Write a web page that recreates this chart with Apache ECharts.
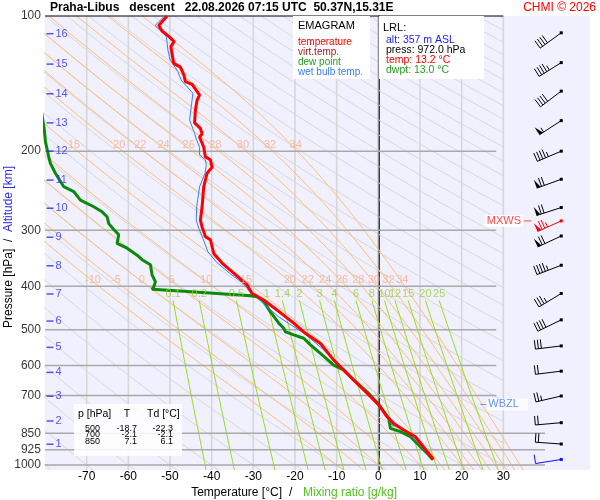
<!DOCTYPE html>
<html>
<head>
<meta charset="utf-8">
<title>Emagram Praha-Libus</title>
<script src="https://cdn.jsdelivr.net/npm/echarts@6/dist/echarts.min.js"></script>
<style>
html, body { margin: 0; padding: 0; background: #fff; }
#chart { width: 600px; height: 500px; }
</style>
</head>
<body>
<div id="chart"></div>
<script>
// axis labels
var pressTicks = [100, 200, 300, 400, 500, 600, 700, 850, 925, 1000];
var tempTicks = [-70, -60, -50, -40, -30, -20, -10, 0, 10, 20, 30];
var altKm = [1, 2, 3, 4, 5, 6, 7, 8, 9, 10, 11, 12, 13, 14, 15, 16];
var altPres = [899, 798, 703, 622, 547, 478, 416, 360, 311, 268, 232, 200, 173, 149, 128, 109.5];

// background families
var thetaWLow = [-10, -5, 0, 5, 10, 15, 20, 22, 24, 26, 28, 30, 32, 34];   // labelled near 400 hPa
var thetaWHigh = [15, 20, 22, 24, 26, 28, 30, 32, 34];                     // labelled near 200 hPa
var mixRatios = [0.1, 0.2, 0.5, 1, 1.4, 2, 3, 4, 6, 8, 10, 12, 15, 20, 25];

// sounding (hPa / degC), surface upward
var tempP = [972, 903, 865, 836, 808, 781, 735, 692, 636, 584, 536, 509, 483, 452, 429, 415, 397, 374, 355, 338, 315, 310, 295, 285, 266, 240, 224, 217, 209, 206, 196, 186, 183, 178, 173, 162, 154, 150, 142, 140, 135, 130, 127.5, 121.5, 117, 114, 111, 108, 105, 100];
var tempT = [13.2, 10.5, 8.9, 6.1, 3.7, 2.1, 0.1, -2.7, -6.7, -10.7, -13.9, -17.5, -20.3, -24.3, -27.5, -30.3, -31.5, -34.7, -37.5, -39.5, -40.3, -41.5, -42.3, -42.7, -42.3, -41.9, -41.1, -39.9, -40.3, -41.5, -41.9, -42.9, -42.3, -42.7, -44.1, -43.9, -43.5, -42.9, -44.7, -46.3, -46.7, -47.5, -49.1, -49.5, -49.8, -49.0, -50.3, -51.9, -52.7, -50.7];
var dewP = [972, 950, 910, 865, 843, 829, 787, 731, 687, 647, 614, 599, 564, 540, 522, 513, 505, 496, 483, 456, 433, 422, 420, 415, 410, 406, 401, 391, 377, 358, 349, 341, 329, 321, 307, 299, 290, 280, 273, 266, 257, 246, 240, 224, 213, 206, 190.5, 178, 162];
var dewT = [13.0, 12.1, 10.1, 7.7, 5.3, 2.9, 2.5, 0, -2.7, -5.9, -8.3, -10.7, -13.9, -16.3, -17.9, -20.3, -22.3, -22.7, -23.9, -25.9, -27.5, -29.1, -30.7, -38.7, -46.7, -54.3, -53.9, -53.5, -54.3, -54.7, -56.7, -57.9, -60.3, -62.7, -62.3, -63.5, -64.7, -65.1, -66.3, -68.3, -71.5, -73.1, -75.5, -77.5, -78.7, -79.1, -79.9, -80.2, -80.9];
var wetP = [972, 942, 888, 836, 815, 733, 690, 637, 585, 550, 509, 488, 467, 440, 420, 411, 394, 374, 353, 335, 313, 297, 285, 266, 240, 224, 215, 209, 204, 196, 189, 182.5, 170.5, 159, 148.6, 139, 133, 125, 119, 111, 105, 100];
var wetT = [13.1, 11.7, 9.3, 6.5, 3.3, 0, -2.7, -6.7, -10.7, -13.5, -17.8, -20.9, -24.0, -27.3, -29.3, -30.9, -32.5, -35.7, -38.9, -40.9, -42.1, -43.1, -43.7, -43.6, -42.9, -41.6, -41.3, -41.5, -42.9, -42.9, -43.6, -44.1, -45.3, -44.9, -44.5, -47.3, -48.1, -50.0, -50.5, -50.9, -53.6, -51.3];

// wind (hPa, deg, kt)
var windP = [972, 898, 805, 702, 618, 543, 475, 415, 359, 309, 286, 267, 231, 200, 171, 147, 127, 109];
var windDir = [261, 274, 265, 257, 263, 263, 244, 239, 249, 245, 246, 252, 250, 247, 237, 233, 238, 234];
var windSpd = [10, 20, 20, 25, 20, 30, 40, 35, 45, 70, 75, 70, 70, 45, 55, 40, 45, 40];
var windKind = ['sfc', 'obs', 'obs', 'obs', 'obs', 'obs', 'obs', 'obs', 'obs', 'obs', 'mxws', 'obs', 'obs', 'obs', 'obs', 'obs', 'obs', 'obs'];

var mxwsP = 286;
var wbzlP = 733;

// table
var tableP = [500, 700, 850];
var tableT = [-18.7, -2.1, 7.1];
var tableTd = [-22.3, -2.1, 6.1];

var yMax = 1026;
var FONT = 'Liberation Sans, Arial, sans-serif';

function esat(t) { return 6.112 * Math.exp(17.67 * t / (t + 243.5)); }
function lapse(t, p) {
    var tk = t + 273.15, e = esat(t), r = 0.622 * e / (p - e);
    return (287.04 * tk + 2.501e6 * r) / (1005.7 + 2.501e6 * 2.501e6 * r * 0.622 / (287.04 * tk * tk)) / p;
}
function rk(t, p, h) {
    var k1 = lapse(t, p), k2 = lapse(t + h / 2 * k1, p + h / 2),
        k3 = lapse(t + h / 2 * k2, p + h / 2), k4 = lapse(t + h * k3, p + h);
    return t + h / 6 * (k1 + 2 * k2 + 2 * k3 + k4);
}
function moistLine(thw) {
    var up = [], down = [], t = thw, p = 1000, i = 0;
    up.push([t, p]);
    while (p > 100.5) { t = rk(t, p, -2); p -= 2; i++; if (i % 5 === 0) up.push([t, p]); }
    t = thw; p = 1000;
    while (p < 1030) { t = rk(t, p, 2); p += 2; down.push([t, p]); }
    return up.reverse().concat(down);
}
function moistAt(thw, pTarget) {
    var t = thw, p = 1000;
    while (p > pTarget + 0.01) { var h = Math.max(-2, pTarget - p); t = rk(t, p, h); p += h; }
    return t;
}
function mixT(r, p) {
    var e = r * p / (622 + r), l = Math.log(e / 6.112);
    return 243.5 * l / (17.67 - l);
}

function line(data, color, width, z, type) {
    return { type: 'line', data: data, symbol: 'none', silent: true, z: z, clip: true,
             lineStyle: { color: color, width: width, type: type || 'solid' } };
}
function pairs(ps, ts) { return ps.map(function (p, i) { return [ts[i], p]; }); }

var series = [];

// dry adiabats (every 10 K), cut at the 30 degC isotherm
for (var th = -80; th <= 330; th += 10) {
    var thK = th + 273.15, pts = [];
    var pEnd = Math.min(yMax, 1000 * Math.pow(303.15 / thK, 3.5));
    if (pEnd <= 100) continue;
    for (var k = 0; k <= 40; k++) {
        var pp = 100 * Math.pow(pEnd / 100, k / 40);
        pts.push([thK * Math.pow(pp / 1000, 0.2857) - 273.15, pp]);
    }
    series.push(line(pts, '#d8d8d8', 1, 1));
}
// isotherms
tempTicks.forEach(function (t) {
    series.push(line([[t, 100], [t, yMax]], t === 0 ? '#949494' : '#d6d6d6', t === 0 ? 1.2 : 1.5, 2));
});
// moist adiabats
thetaWLow.forEach(function (w) { series.push(line(moistLine(w), '#ffbf75', 1, 3)); });
// mixing ratio lines
mixRatios.forEach(function (r) {
    var pts = [];
    for (var k = 0; k <= 20; k++) { var pp = 430 * Math.pow(yMax / 430, k / 20); pts.push([mixT(r, pp), pp]); }
    series.push(line(pts, '#9ddc1c', 1, 3));
});
// isobars
pressTicks.forEach(function (p) {
    if (p === 100) return;
    series.push(line([[-80, p], [p >= 850 ? 40 : 28.3, p]], '#a9a9a9', 1.5, 4));
});
// frame top line
var frameTop = line([[-80, 100], [30, 100]], '#000', 1, 4);
frameTop.clip = false;
series.push(frameTop);

// profiles
series.push(line(pairs(dewP, dewT), '#0a8a0a', 3, 6));
series.push(line(pairs(wetP, wetT), '#3a7cf0', 1, 7));
series.push(line(pairs(tempP, tempT), '#ff0000', 3, 8));

function labels(data, color, size, pos, extra) {
    var s = { type: 'scatter', data: data, symbolSize: 0.1, silent: true, z: 9, clip: false,
              itemStyle: { color: 'rgba(0,0,0,0)' },
              label: { show: true, position: pos, color: color, fontSize: size, fontFamily: FONT,
                       formatter: function (d) { return d.data[2]; } } };
    if (extra) Object.assign(s.label, extra);
    return s;
}
// moist adiabat labels
series.push(labels(thetaWLow.map(function (w) { return [moistAt(w, 387), 387, String(w)]; }), '#ffab8c', 11, 'inside', { offset: [2, 0] }));
series.push(labels(thetaWHigh.map(function (w) { return [moistAt(w, 194), 194, String(w)]; }), '#ffab8c', 11, 'inside', { offset: [4, 0] }));
// mixing ratio labels
series.push(labels(mixRatios.map(function (r) { return [mixT(r, 430), 416, String(r)]; }), '#9acd32', 11, 'inside'));
// pressure labels
series.push(labels(pressTicks.map(function (p) { return [-80, p, String(p)]; }), '#000', 12, 'left', { distance: 4 }));
// altitude ticks
var altX = -80 + 5 / 4.1667;
var altSeries = labels(altPres.map(function (p, i) { return [altX, p, String(altKm[i])]; }), '#2a2af0', 11, 'right', { distance: 2 });
altSeries.symbol = 'rect'; altSeries.symbolSize = [7, 1.5]; altSeries.itemStyle = { color: '#2a2af0' };
series.push(altSeries);
// MXWS / WBZL markers
var mxSeries = labels([[35.8, mxwsP, 'MXWS']], '#ff2020', 11, 'left',
    { distance: 1, backgroundColor: '#fff', padding: [1, 2, 0, 2] });
mxSeries.symbol = 'rect'; mxSeries.symbolSize = [7, 1]; mxSeries.itemStyle = { color: '#ff2020' };
series.push(mxSeries);
var wbSeries = labels([[25.2, wbzlP, 'WBZL']], '#3a7cf0', 11, 'right',
    { distance: 1, backgroundColor: '#fff', padding: [1, 9, 0, 1] });
wbSeries.symbol = 'rect'; wbSeries.symbolSize = [6, 1]; wbSeries.itemStyle = { color: '#3a7cf0' };
series.push(wbSeries);

// wind barbs
var barbT = 43.9;
var barbColors = { obs: '#000', mxws: '#ff0000', sfc: '#1010ff' };
series.push({
    type: 'custom', coordinateSystem: 'cartesian2d', clip: false, silent: true, z: 10,
    encode: { x: 0, y: 1 },
    data: windP.map(function (p, i) { return [barbT, p, windDir[i], windSpd[i]]; }),
    renderItem: function (params, api) {
        var pt = api.coord([api.value(0), api.value(1)]);
        var d = api.value(2) * Math.PI / 180, spd = api.value(3);
        var col = barbColors[windKind[params.dataIndex]];
        var ux = Math.sin(d), uy = -Math.cos(d), fx = -uy, fy = ux;
        var L = 26, tx = pt[0] + ux * L, ty = pt[1] + uy * L;
        var kids = [
            { type: 'line', shape: { x1: pt[0], y1: pt[1], x2: tx, y2: ty }, style: { stroke: col, lineWidth: 1 } },
            { type: 'rect', shape: { x: pt[0] - 1.5, y: pt[1] - 1.5, width: 3, height: 3 }, style: { fill: col } }
        ];
        var s = Math.round(spd / 5) * 5, pos = 0;
        while (s >= 50) {
            var b0 = [tx - ux * pos, ty - uy * pos], b1 = [tx - ux * (pos + 4), ty - uy * (pos + 4)];
            kids.push({ type: 'polygon', shape: { points: [b0, b1, [b0[0] + fx * 9, b0[1] + fy * 9]] }, style: { fill: col } });
            pos += 5; s -= 50;
        }
        while (s >= 10) {
            var bx = tx - ux * pos, by = ty - uy * pos;
            kids.push({ type: 'line', shape: { x1: bx, y1: by, x2: bx + fx * 9, y2: by + fy * 9 }, style: { stroke: col, lineWidth: 1 } });
            pos += 3; s -= 10;
        }
        if (s >= 5) {
            if (pos === 0) pos = 3;
            var hx = tx - ux * pos, hy = ty - uy * pos;
            kids.push({ type: 'line', shape: { x1: hx, y1: hy, x2: hx + fx * 5, y2: hy + fy * 5 }, style: { stroke: col, lineWidth: 1 } });
        }
        return { type: 'group', children: kids };
    }
});

function txt(x, y, text, color, size, align, weight) {
    return { type: 'text', x: x, y: y, z: 60,
             style: { text: text, fill: color, font: (weight || 'normal') + ' ' + size + 'px ' + FONT,
                      textAlign: align || 'left', textVerticalAlign: 'middle' } };
}
function fmt(v) { return v.toFixed(1); }

var graphics = [
    { type: 'rect', z: 50, shape: { x: 293, y: 16, width: 77, height: 63 }, style: { fill: '#fff' } },
    { type: 'rect', z: 50, shape: { x: 379, y: 16, width: 105, height: 63 }, style: { fill: '#fff' } },
    { type: 'rect', z: 50, shape: { x: 74, y: 404, width: 108, height: 52 }, style: { fill: 'rgba(255,255,255,0.85)' } },
    txt(50, 8, 'Praha-Libus   descent   22.08.2026 07:15 UTC  50.37N,15.31E', '#000', 12, 'left', 'bold'),
    txt(596, 8, 'CHMI \u00a9 2026', '#ff0000', 12, 'right'),
    txt(298, 26, 'EMAGRAM', '#000', 11),
    txt(298, 42.5, 'temperature', '#ff0000', 10),
    txt(298, 52.5, 'virt.temp.', '#a02020', 10),
    txt(298, 62.5, 'dew point', '#22a022', 10),
    txt(298, 72.5, 'wet bulb temp.', '#3a7cf0', 10),
    txt(383, 27.5, 'LRL:', '#000', 11),
    txt(386, 40, 'alt: 357 m ASL', '#1a1aff', 10.5),
    txt(386, 50, 'press: 972.0 hPa', '#000', 10.5),
    txt(386, 60, 'temp: 13.2 \u00b0C', '#ff0000', 10.5),
    txt(386, 70, 'dwpt: 13.0 \u00b0C', '#22a022', 10.5),
    txt(78, 414, 'p [hPa]', '#000', 10.5),
    txt(127, 414, 'T', '#000', 10.5, 'center'),
    txt(147, 414, 'Td [\u00b0C]', '#000', 10.5),
    txt(282, 493, 'Temperature [\u00b0C]', '#000', 12, 'right'),
    txt(289, 493, '/', '#000', 12),
    txt(303, 493, 'Mixing ratio [g/kg]', '#55c020', 12),
    { type: 'text', x: 9, y: 247, rotation: Math.PI / 2, z: 60,
      style: { text: '{a|Pressure [hPa]}  /  {b|Altitude [km]}', textAlign: 'center', textVerticalAlign: 'middle',
               font: '12px ' + FONT, fill: '#000',
               rich: { a: { fill: '#000', font: '12px ' + FONT }, b: { fill: '#2a2af0', font: '12px ' + FONT } } } }
];
tableP.forEach(function (p, i) {
    var y = 428.5 + i * 6.5;
    graphics.push(txt(85, y, String(p), '#000', 9));
    graphics.push(txt(137, y, fmt(tableT[i]), '#000', 9, 'right'));
    graphics.push(txt(173, y, fmt(tableTd[i]), '#000', 9, 'right'));
});

var chart = echarts.init(document.getElementById('chart'));
chart.setOption({
    animation: false,
    grid: { left: 45, top: 16, width: 545, height: 454, show: true, backgroundColor: '#f0f0fe', borderWidth: 0 },
    xAxis: {
        type: 'value', min: -80, max: 50.8, interval: 10,
        axisLine: { show: false }, axisTick: { show: false }, splitLine: { show: false },
        axisLabel: { margin: 1, color: '#000', fontSize: 12, fontFamily: FONT,
                     formatter: function (v) { return (v > -80 && v <= 30) ? String(v) : ''; } }
    },
    yAxis: {
        type: 'log', logBase: 10, min: 100, max: yMax, inverse: true,
        axisLine: { show: true, lineStyle: { color: '#000', width: 1.5 } },
        axisTick: { show: false }, axisLabel: { show: false }, splitLine: { show: false }
    },
    graphic: graphics,
    series: series
});
</script>
</body>
</html>
